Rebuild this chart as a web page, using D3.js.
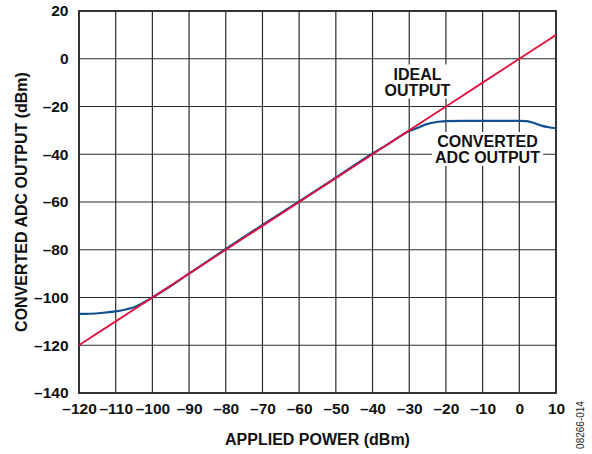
<!DOCTYPE html>
<html>
<head>
<meta charset="utf-8">
<script src="https://cdn.jsdelivr.net/npm/d3@7"></script>
<style>
  body { margin: 0; background: #fff; }
  text { font-family: Arial, "Liberation Sans", Helvetica, sans-serif; }
</style>
</head>
<body>
<svg id="chart" width="592" height="454"></svg>
<script>
// Applied power (dBm) tick values and output tick values
const xTicks = [-120, -110, -100, -90, -80, -70, -60, -50, -40, -30, -20, -10, 0, 10];
const yTicks = [-140, -120, -100, -80, -60, -40, -20, 0, 20];

// Ideal output: output equals applied power
const idealPower = [-120, -110, -100, -90, -80, -70, -60, -50, -40, -30, -20, -10, 0, 10];
const idealOut   = [-120, -110, -100, -90, -80, -70, -60, -50, -40, -30, -20, -10, 0, 10];

// Converted ADC output, measured
const adcPower = [-120, -117, -114, -110, -107, -105, -102, -100, -95, -90, -80, -70, -60, -50, -40, -35, -32, -30, -28, -25, -22, -20, -15, -10, -5, 0, 2, 4, 6, 8, 10];
const adcOut   = [-106.9, -106.8, -106.5, -105.8, -104.9, -104.1, -101.8, -100, -95.2, -90, -79.7, -69.6, -59.8, -49.8, -39.7, -35, -32, -30.3, -29.1, -27.3, -26.4, -26.1, -26, -26, -26, -26, -26.1, -26.9, -28, -28.7, -29.1];

const svg = d3.select("#chart");
const L = 79, R = 556, T = 11, B = 393;

const x = d3.scaleLinear().domain([-120, 10]).range([L, R]);
const y = d3.scaleLinear().domain([-140, 20]).range([B, T]);

const gridColor = "#2b2b2b";
const font = "Arial, 'Liberation Sans', sans-serif";

// Grid
svg.append("g")
  .selectAll("line")
  .data(xTicks)
  .join("line")
  .attr("x1", d => x(d)).attr("x2", d => x(d))
  .attr("y1", T).attr("y2", B)
  .attr("stroke", gridColor).attr("stroke-width", 1.2);

svg.append("g")
  .selectAll("line")
  .data(yTicks)
  .join("line")
  .attr("x1", L).attr("x2", R)
  .attr("y1", d => y(d)).attr("y2", d => y(d))
  .attr("stroke", gridColor).attr("stroke-width", 1.2);

// Frame
svg.append("rect")
  .attr("x", L).attr("y", T).attr("width", R - L).attr("height", B - T)
  .attr("fill", "none").attr("stroke", gridColor).attr("stroke-width", 1.8);

const fmt = d => (d < 0 ? "\u2013" + Math.abs(d) : String(d));

// X axis labels
svg.append("g")
  .attr("transform", `translate(0,${B})`)
  .call(d3.axisBottom(x).tickValues(xTicks).tickFormat(fmt).tickSize(0).tickPadding(10))
  .call(g => g.select(".domain").remove())
  .selectAll("text")
  .attr("font-size", 15.5).attr("font-weight", "bold").attr("fill", "#111")
  .attr("font-family", font);

// Y axis labels
svg.append("g")
  .attr("transform", `translate(${L},0)`)
  .call(d3.axisLeft(y).tickValues(yTicks).tickFormat(fmt).tickSize(0).tickPadding(10.5))
  .call(g => g.select(".domain").remove())
  .selectAll("text")
  .attr("font-size", 15.5).attr("font-weight", "bold").attr("fill", "#111")
  .attr("font-family", font);

// Curves
const line = d3.line().x(d => x(d[0])).y(d => y(d[1])).curve(d3.curveMonotoneX);

svg.append("path")
  .datum(adcPower.map((p, i) => [p, adcOut[i]]))
  .attr("d", line)
  .attr("fill", "none").attr("stroke", "#12508f").attr("stroke-width", 2.2);

svg.append("path")
  .datum(idealPower.map((p, i) => [p, idealOut[i]]))
  .attr("d", line)
  .attr("fill", "none").attr("stroke", "#e3103e").attr("stroke-width", 1.8);

// Series labels with white backing
function label(lines, cx, y0, dy) {
  const g = svg.append("g");
  lines.forEach((s, i) => {
    g.append("text")
      .attr("x", cx).attr("y", y0 + i * dy)
      .attr("text-anchor", "middle")
      .attr("font-size", 16).attr("font-weight", "bold").attr("fill", "#111")
      .text(s);
  });
  const bb = g.node().getBBox();
  g.insert("rect", "text")
    .attr("x", bb.x - 3).attr("y", bb.y - 1)
    .attr("width", bb.width + 6).attr("height", bb.height + 1)
    .attr("fill", "#fff");
}
label(["IDEAL", "OUTPUT"], 417.5, 79.5, 16);
label(["CONVERTED", "ADC OUTPUT"], 487.5, 147, 16);

// Axis titles
svg.append("text")
  .attr("x", (L + R) / 2).attr("y", 445)
  .attr("text-anchor", "middle")
  .attr("font-size", 16).attr("font-weight", "bold").attr("fill", "#111")
  .text("APPLIED POWER (dBm)");

svg.append("text")
  .attr("transform", `translate(27,${(T + B) / 2}) rotate(-90)`)
  .attr("text-anchor", "middle")
  .attr("font-size", 16).attr("font-weight", "bold").attr("fill", "#111")
  .text("CONVERTED ADC OUTPUT (dBm)");

// Figure code
svg.append("text")
  .attr("transform", "translate(584,425) rotate(-90)")
  .attr("text-anchor", "middle")
  .attr("font-size", 10).attr("fill", "#222")
  .text("08266-014");
</script>
</body>
</html>
